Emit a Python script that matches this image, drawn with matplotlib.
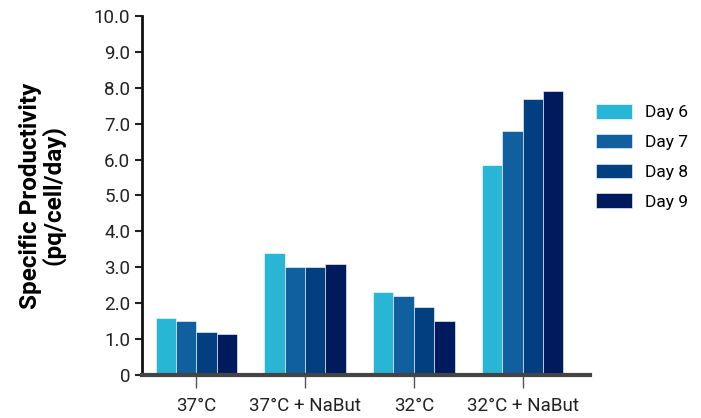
import numpy as np
import matplotlib.pyplot as plt

categories = ['37°C', '37°C + NaBut', '32°C', '32°C + NaBut']
days = ['Day 6', 'Day 7', 'Day 8', 'Day 9']
day6 = [1.6, 3.4, 2.3, 5.85]
day7 = [1.5, 3.0, 2.2, 6.8]
day8 = [1.2, 3.0, 1.9, 7.7]
day9 = [1.15, 3.1, 1.5, 7.9]
colors = ['#29b5d5', '#1060a0', '#023f80', '#001a5e']

plt.rcParams['font.family'] = ['Roboto', 'DejaVu Sans']

fig = plt.figure(figsize=(7.01, 4.18), dpi=100)
ax = fig.add_axes([0.2026, 0.1029, 0.639, 0.8588])

x = np.arange(len(categories))
w = 0.1875
for i, vals in enumerate([day6, day7, day8, day9]):
    ax.bar(x + (i - 1.5) * w, vals, w, color=colors[i], label=days[i],
           edgecolor='white', linewidth=0.4)

ax.set_xlim(-0.5, 3.62)
ax.set_ylim(0, 10)
ax.set_yticks(np.arange(0, 11))
ax.set_yticklabels(['0'] + ['%.1f' % v for v in range(1, 11)])
ax.set_xticks(x)
ax.set_xticklabels(categories)
ax.tick_params(axis='y', length=5, width=1.5, labelsize=13.5, colors='#222222')
ax.tick_params(axis='x', length=9, width=1, color='#555555', labelsize=13.5, pad=7,
               labelcolor='#222222')

for s in ['top', 'right']:
    ax.spines[s].set_visible(False)
ax.spines['left'].set_linewidth(2)
ax.spines['left'].set_color('#111111')
ax.spines['bottom'].set_linewidth(3)
ax.spines['bottom'].set_color('#444444')

ax.set_ylabel('Specific Productivity\n(pq/cell/day)', fontsize=17.5, fontweight='bold',
              labelpad=20, linespacing=1.0)

ax.legend(loc='upper left', bbox_to_anchor=(1.013, 0.755), frameon=False, fontsize=12.5,
          handlelength=2.07, handleheight=0.92, labelspacing=0.78, handletextpad=0.75,
          borderpad=0, borderaxespad=0)

fig.savefig('out.png', dpi=100)
